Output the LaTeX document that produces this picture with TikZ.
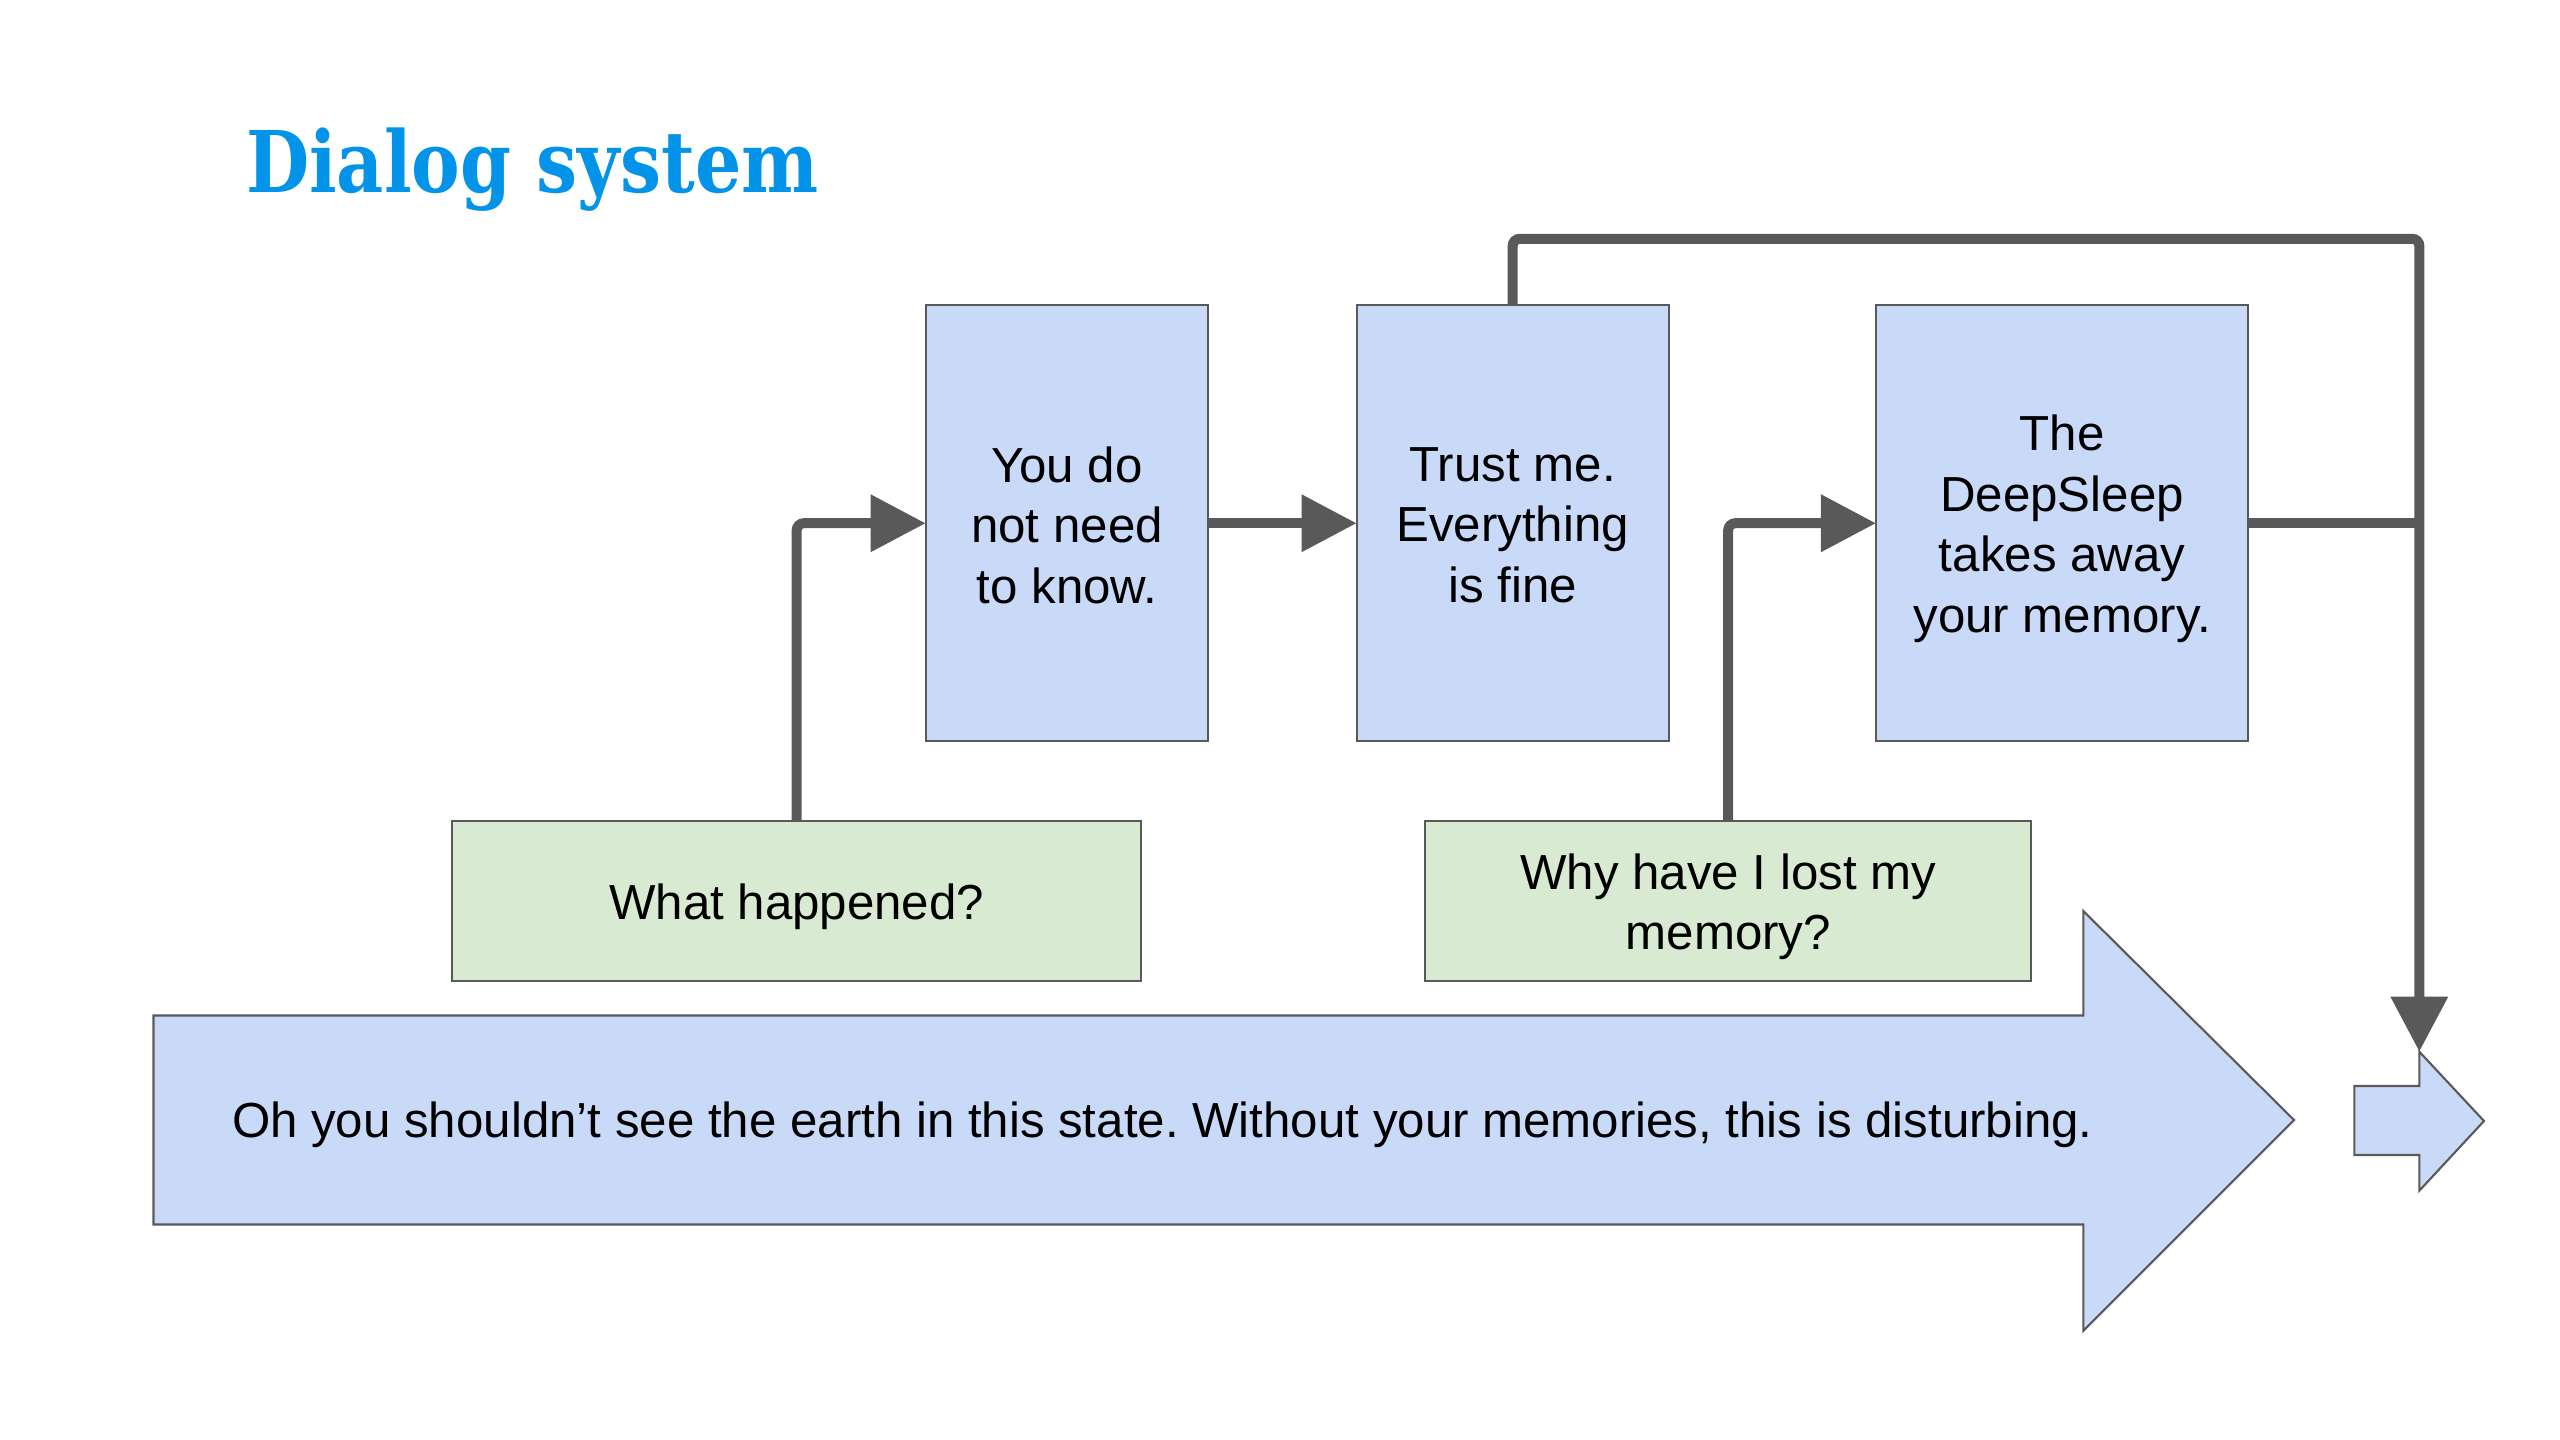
\documentclass[tikz,border=0pt]{standalone}
\usepackage{fontspec}
\setmainfont{Liberation Sans}
\newfontfamily\titlefont[FakeStretch=0.857]{DejaVu Serif}
\usetikzlibrary{arrows.meta}
\definecolor{titleblue}{RGB}{3,147,232}
\definecolor{boxblue}{HTML}{C9DAF8}
\definecolor{boxgreen}{HTML}{D9EAD3}
\definecolor{linegray}{HTML}{595959}
\frenchspacing
\begin{document}
\begin{tikzpicture}[x=0.01cm,y=-0.01cm,
  every node/.style={inner sep=0pt,outer sep=0pt},
  txt/.style={font=\fontsize{14}{17.2}\selectfont,align=center,text=black},
  bluebox/.style={draw=linegray,line width=0.6pt,fill=boxblue,minimum height=4.36cm},
  greenbox/.style={draw=linegray,line width=0.6pt,fill=boxgreen,minimum height=1.6cm},
  shapeline/.style={draw=linegray,line width=0.6pt,fill=boxblue,line join=miter},
  conn/.style={draw=linegray,line width=0.1cm,rounded corners=2pt,-{Triangle[length=0.55cm,width=0.55cm]}},
  connplain/.style={draw=linegray,line width=0.1cm}]
\useasboundingbox (0,0) rectangle (2560,1440);

% title
\node[anchor=base west,text=titleblue,font=\titlefont\bfseries\fontsize{24.2}{29}\selectfont] (title) at (246,193) {Dialog system};

% boxes
\node[bluebox,minimum width=2.825cm] (b1) at (1067,523.25) {};
\node[bluebox,minimum width=3.12cm] (b2) at (1512.7,523.25) {};
\node[bluebox,minimum width=3.72cm] (b3) at (2062.1,523.25) {};
\node[greenbox,minimum width=6.89cm] (g1) at (796.7,901.2) {};
\node[greenbox,minimum width=6.06cm] (g2) at (1728.2,901.2) {};
\node[txt] (b1t) at ([yshift=-0.02cm]b1.center) {You do\\not need\\to know.};
\node[txt] (b2t) at ([yshift=-0.02cm]b2.center) {Trust me.\\Everything\\is fine};
\node[txt] (b3t) at ([yshift=-0.055cm]b3.center) {The\\DeepSleep\\takes away\\your memory.};
\node[txt] (g1t) at ([yshift=-0.055cm]g1.center) {What happened?};
\node[txt] (g2t) at ([yshift=-0.055cm]g2.center) {Why have I lost my\\memory?};

% big arrow
\path[shapeline] (153.5,1015.5) -- (2083.3,1015.5) -- (2083.3,911) -- (2294,1120)
  -- (2083.3,1330.7) -- (2083.3,1224.5) -- (153.5,1224.5) -- cycle;
\node[txt,anchor=west] (bigtext) at (232,1125) {Oh you shouldn’t see the earth in this state. Without your memories, this is disturbing.};

% small arrow
\path[shapeline] (2354.3,1086) -- (2419.3,1086) -- (2419.3,1051.7) -- (2484,1121)
  -- (2419.3,1190.7) -- (2419.3,1155) -- (2354.3,1155) -- cycle;
\coordinate (smalltop) at (2419.3,1051.7);
\coordinate (corner) at (2419.3,238.8);

% connectors
\draw[conn] (g1.north) |- (b1.west);
\draw[conn] (b1.east) -- (b2.west);
\draw[conn] (g2.north) |- (b3.west);
\draw[conn] (b2.north) |- (corner) -- (smalltop);
\draw[connplain] (b3.east) -- (corner |- b3.east);
\end{tikzpicture}
\end{document}
